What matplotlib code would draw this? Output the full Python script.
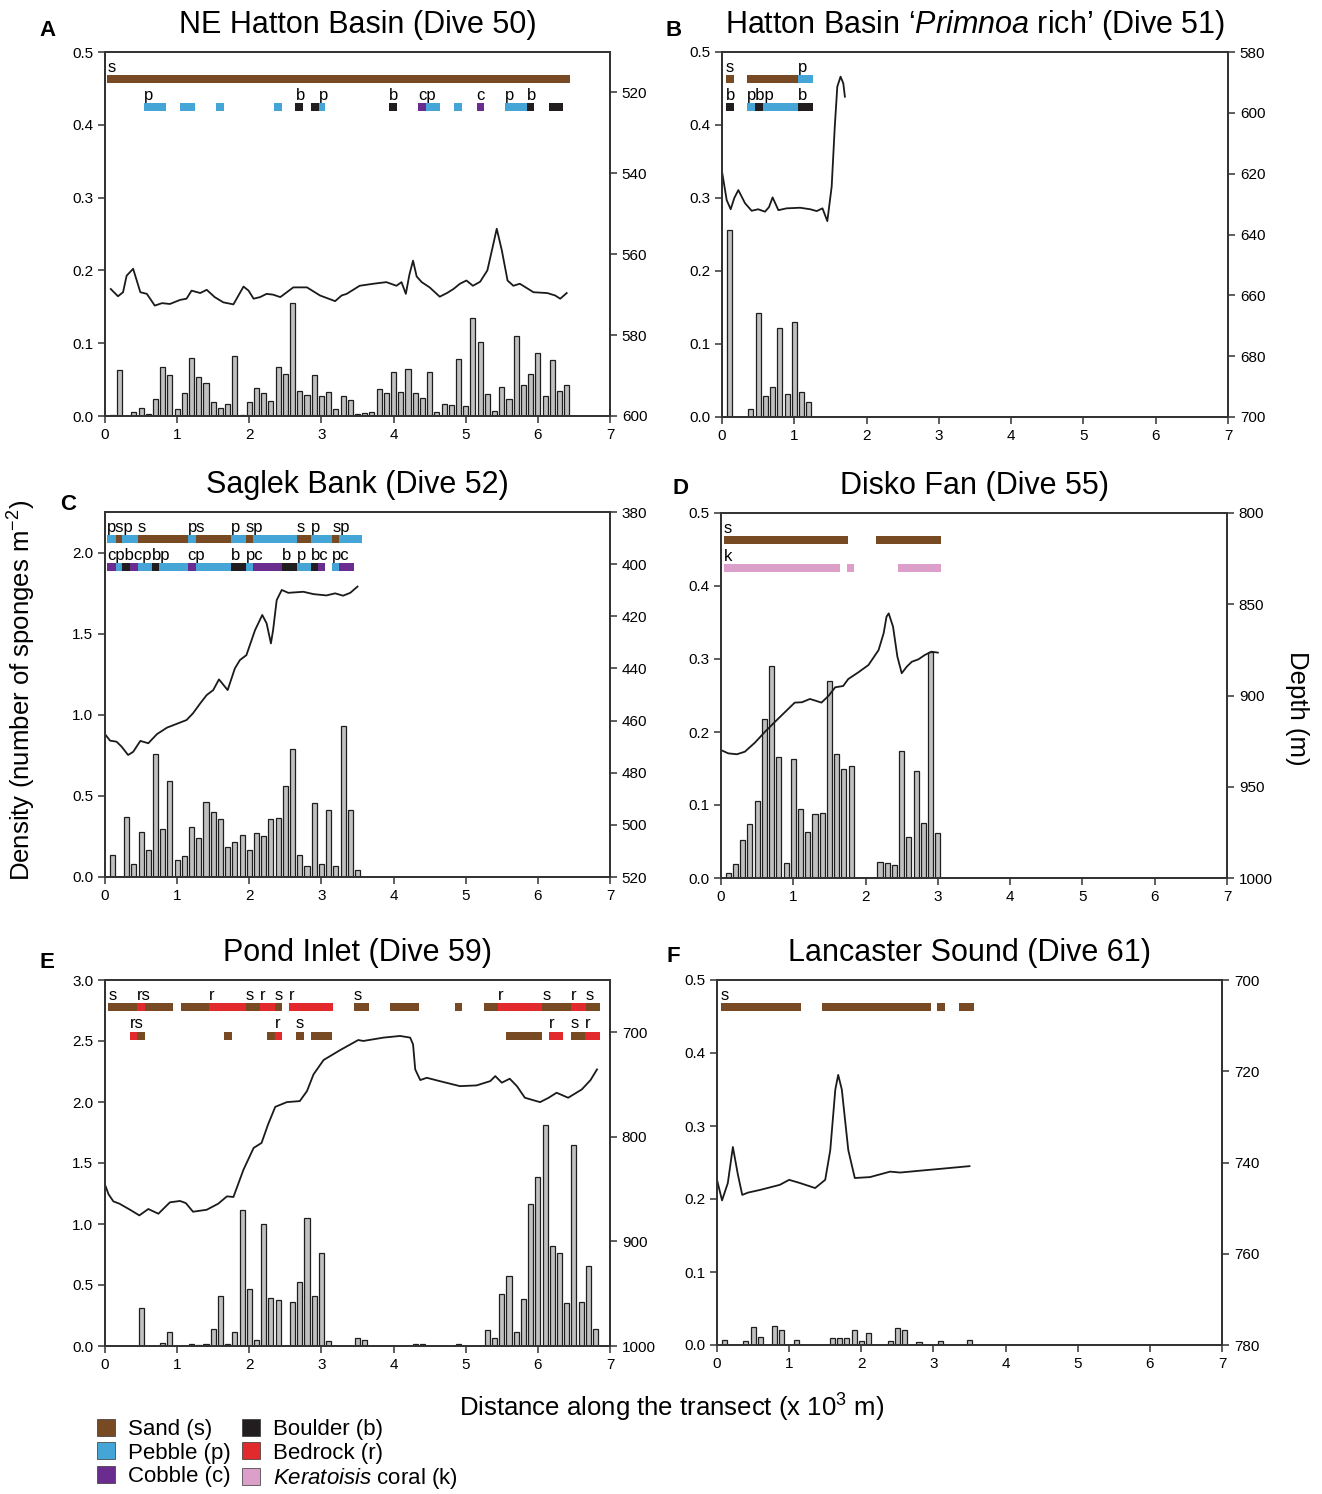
import numpy as np
import matplotlib
matplotlib.use("Agg")
import matplotlib.pyplot as plt
from matplotlib.patches import Rectangle, Patch

plt.rcParams['font.family'] = ['Liberation Sans', 'DejaVu Sans']
plt.rcParams['mathtext.fontset'] = 'custom'
plt.rcParams['mathtext.rm'] = 'Liberation Sans'
plt.rcParams['mathtext.it'] = 'Liberation Sans:italic'

W, H = 1322, 1494

substrate_colors = {'s': '#774a24', 'p': '#45a5d6', 'c': '#6b2c8f',
                    'b': '#221e1f', 'r': '#e22a2d', 'k': '#dc9fca'}
legend_names = [('s', 'Sand (s)'), ('p', 'Pebble (p)'), ('c', 'Cobble (c)'),
                ('b', 'Boulder (b)'), ('r', 'Bedrock (r)'),
                ('k', '$\\mathit{Keratoisis}$ coral (k)')]

# ---------------- Panel A : NE Hatton Basin (Dive 50)
a_dist = [0.1, 0.2, 0.4, 0.5, 0.6, 0.7, 0.8, 0.9, 1.0, 1.1, 1.2, 1.3, 1.4, 1.5, 1.6, 1.7,
          1.8, 1.9, 2.0, 2.1, 2.2, 2.3, 2.4, 2.5, 2.6, 2.7, 2.8, 2.9, 3.0, 3.1, 3.2, 3.3,
          3.4, 3.5, 3.6, 3.7, 3.8, 3.9, 4.0, 4.1, 4.2, 4.3, 4.4, 4.5, 4.6, 4.7, 4.8, 4.9,
          5.0, 5.1, 5.2, 5.3, 5.4, 5.5, 5.6, 5.7, 5.8, 5.9, 6.0, 6.1, 6.2, 6.3, 6.4]
a_dens = [0.002, 0.063, 0.005, 0.011, 0.003, 0.023, 0.067, 0.057, 0.010, 0.031, 0.080,
          0.054, 0.045, 0.019, 0.011, 0.017, 0.082, 0.002, 0.019, 0.039, 0.031, 0.021,
          0.067, 0.058, 0.155, 0.035, 0.029, 0.056, 0.028, 0.033, 0.009, 0.028, 0.022,
          0.003, 0.004, 0.006, 0.037, 0.031, 0.061, 0.033, 0.064, 0.031, 0.025, 0.060,
          0.005, 0.016, 0.015, 0.078, 0.014, 0.134, 0.101, 0.030, 0.007, 0.040, 0.024,
          0.110, 0.043, 0.058, 0.087, 0.028, 0.077, 0.035, 0.043]
a_line_x = [0.08, 0.18, 0.25, 0.30, 0.39, 0.44, 0.49, 0.58, 0.69, 0.79, 0.90, 1.04, 1.13,
            1.20, 1.32, 1.41, 1.52, 1.64, 1.78, 1.85, 1.92, 1.99, 2.06, 2.15, 2.24, 2.33,
            2.43, 2.52, 2.61, 2.80, 2.98, 3.19, 3.28, 3.35, 3.44, 3.53, 3.72, 3.90, 4.04,
            4.11, 4.17, 4.22, 4.27, 4.32, 4.39, 4.50, 4.64, 4.74, 4.83, 4.92, 5.01, 5.10,
            5.20, 5.30, 5.37, 5.43, 5.50, 5.58, 5.66, 5.75, 5.94, 6.13, 6.24, 6.31, 6.40]
a_line_d = [568.6, 570.4, 569.4, 565.3, 563.6, 566.5, 569.4, 569.8, 572.7, 572.1, 572.3,
            571.3, 571.0, 569.0, 569.6, 568.8, 570.6, 571.9, 572.4, 570.2, 568.0, 569.0,
            571.0, 570.6, 569.8, 570.0, 570.6, 569.4, 568.2, 568.2, 570.2, 571.6, 570.2,
            569.8, 568.8, 567.8, 567.3, 566.9, 567.8, 566.9, 569.8, 565.0, 561.6, 565.5,
            566.9, 568.2, 570.5, 569.6, 568.6, 567.3, 566.5, 567.8, 566.8, 564.0, 558.5,
            553.7, 559.0, 566.5, 567.8, 567.3, 569.4, 569.6, 570.2, 571.0, 569.6]
a_row1 = [(0.03, 6.45, 's')]
a_row2 = [(0.545, 0.846, 'p'), (1.04, 1.25, 'p'), (1.54, 1.65, 'p'), (2.34, 2.45, 'p'),
          (2.64, 2.75, 'b'), (2.85, 2.96, 'b'), (2.96, 3.05, 'p'), (3.94, 4.05, 'b'),
          (4.34, 4.45, 'c'), (4.45, 4.65, 'p'), (4.84, 4.95, 'p'), (5.15, 5.26, 'c'),
          (5.54, 5.85, 'p'), (5.85, 5.95, 'b'), (6.15, 6.35, 'b')]
a_lab1 = [(0.03, 's')]
a_lab2 = [(0.545, 'p'), (2.64, 'b'), (2.96, 'p'), (3.94, 'b'), (4.34, 'cp'),
          (5.15, 'c'), (5.54, 'p'), (5.85, 'b')]

# ---------------- Panel B : Hatton Basin 'Primnoa rich' (Dive 51)
b_dist = [0.1, 0.4, 0.5, 0.6, 0.7, 0.8, 0.9, 1.0, 1.1, 1.2]
b_dens = [0.256, 0.011, 0.143, 0.029, 0.041, 0.122, 0.031, 0.130, 0.034, 0.020]
b_line_x = [0.0, 0.065, 0.12, 0.17, 0.226, 0.318, 0.41, 0.5, 0.595, 0.65, 0.7, 0.78,
            0.894, 1.08, 1.22, 1.31, 1.39, 1.457, 1.517, 1.56, 1.595, 1.64, 1.678, 1.70]
b_line_d = [619.3, 628.7, 631.7, 628.0, 625.4, 629.7, 632.2, 631.7, 632.5, 631.0, 627.8,
            632.0, 631.4, 631.2, 631.7, 632.3, 631.4, 635.6, 624.3, 604.6, 591.4, 588.1,
            590.3, 594.7]
b_row1 = [(0.055, 0.166, 's'), (0.35, 1.055, 's'), (1.055, 1.26, 'p')]
b_row2 = [(0.055, 0.166, 'b'), (0.35, 0.456, 'p'), (0.456, 0.562, 'b'),
          (0.562, 1.055, 'p'), (1.055, 1.26, 'b')]
b_lab1 = [(0.055, 's'), (1.055, 'p')]
b_lab2 = [(0.055, 'b'), (0.35, 'pbp'), (1.055, 'b')]

# ---------------- Panel C : Saglek Bank (Dive 52)
c_dist = [0.1, 0.3, 0.4, 0.5, 0.6, 0.7, 0.8, 0.9, 1.0, 1.1, 1.2, 1.3, 1.4, 1.5, 1.6, 1.7,
          1.8, 1.9, 2.0, 2.1, 2.2, 2.3, 2.4, 2.5, 2.6, 2.7, 2.8, 2.9, 3.0, 3.1, 3.2, 3.3,
          3.4, 3.5]
c_dens = [0.136, 0.372, 0.082, 0.276, 0.167, 0.757, 0.294, 0.590, 0.105, 0.130, 0.307,
          0.243, 0.463, 0.403, 0.356, 0.183, 0.218, 0.261, 0.165, 0.270, 0.255, 0.360,
          0.362, 0.558, 0.790, 0.134, 0.070, 0.455, 0.078, 0.412, 0.068, 0.930, 0.416,
          0.045]
c_line_x = [0.0, 0.07, 0.16, 0.23, 0.32, 0.39, 0.49, 0.60, 0.72, 0.86, 0.99, 1.13, 1.22,
            1.32, 1.41, 1.50, 1.58, 1.70, 1.80, 1.87, 1.96, 2.08, 2.18, 2.24, 2.30, 2.33,
            2.38, 2.45, 2.54, 2.75, 2.89, 3.07, 3.19, 3.30, 3.40, 3.50]
c_line_d = [465.2, 467.7, 468.1, 470.0, 473.2, 472.0, 467.8, 468.7, 465.2, 462.7, 461.3,
            459.8, 457.2, 453.4, 450.2, 448.3, 444.2, 448.3, 440.0, 436.8, 434.9, 425.3,
            419.5, 422.7, 430.4, 425.3, 413.8, 409.9, 411.0, 410.6, 411.5, 412.0, 411.2,
            412.1, 411.0, 408.6]
c_row1 = [(0.032, 0.148, 'p'), (0.148, 0.24, 's'), (0.24, 0.453, 'p'), (0.453, 1.146, 's'),
          (1.146, 1.257, 'p'), (1.257, 1.747, 's'), (1.747, 1.955, 'p'), (1.955, 2.047, 's'),
          (2.047, 2.657, 'p'), (2.657, 2.851, 's'), (2.851, 3.151, 'p'), (3.151, 3.248, 's'),
          (3.248, 3.558, 'p')]
c_row2 = [(0.032, 0.148, 'c'), (0.148, 0.24, 'p'), (0.24, 0.347, 'b'), (0.347, 0.453, 'c'),
          (0.453, 0.647, 'p'), (0.647, 0.753, 'b'), (0.753, 1.146, 'p'), (1.146, 1.257, 'c'),
          (1.257, 1.747, 'p'), (1.747, 1.955, 'b'), (1.955, 2.047, 'p'), (2.047, 2.449, 'c'),
          (2.449, 2.657, 'b'), (2.657, 2.851, 'p'), (2.851, 2.957, 'b'), (2.957, 3.054, 'c'),
          (3.151, 3.248, 'p'), (3.248, 3.456, 'c')]
c_lab1 = [(0.032, 'psp'), (0.453, 's'), (1.146, 'ps'), (1.747, 'p'), (1.955, 'sp'),
          (2.657, 's'), (2.851, 'p'), (3.151, 'sp')]
c_lab2 = [(0.032, 'cpbcp'), (0.647, 'bp'), (1.146, 'cp'), (1.747, 'b'), (1.955, 'pc'),
          (2.449, 'b'), (2.657, 'p'), (2.851, 'bc'), (3.151, 'pc')]

# ---------------- Panel D : Disko Fan (Dive 55)
d_dist = [0.1, 0.2, 0.3, 0.4, 0.5, 0.6, 0.7, 0.8, 0.9, 1.0, 1.1, 1.2, 1.3, 1.4, 1.5, 1.6,
          1.7, 1.8, 2.2, 2.3, 2.4, 2.5, 2.6, 2.7, 2.8, 2.9, 3.0]
d_dens = [0.007, 0.019, 0.052, 0.074, 0.106, 0.218, 0.291, 0.166, 0.020, 0.163, 0.095,
          0.063, 0.088, 0.089, 0.270, 0.170, 0.149, 0.153, 0.022, 0.021, 0.018, 0.174,
          0.056, 0.146, 0.075, 0.309, 0.061]
d_line_x = [0.0, 0.10, 0.22, 0.33, 0.47, 0.61, 0.75, 0.89, 1.02, 1.12, 1.23, 1.32, 1.39,
            1.49, 1.58, 1.69, 1.76, 1.90, 2.04, 2.18, 2.25, 2.29, 2.32, 2.38, 2.44, 2.50,
            2.57, 2.64, 2.73, 2.82, 2.91, 3.00]
d_line_d = [929.9, 931.7, 932.2, 930.8, 925.8, 919.8, 914.3, 908.9, 903.9, 903.7, 901.9,
            903.0, 903.9, 900.1, 895.5, 894.8, 891.0, 887.3, 883.3, 875.1, 865.9, 856.8,
            855.0, 862.3, 878.7, 887.8, 884.2, 881.5, 880.2, 877.8, 876.0, 876.5]
d_row1 = [(0.041, 1.761, 's'), (2.14, 3.05, 's')]
d_row2 = [(0.041, 1.646, 'k'), (1.747, 1.844, 'k'), (2.444, 3.05, 'k')]
d_lab1 = [(0.041, 's')]
d_lab2 = [(0.041, 'k')]

# ---------------- Panel E : Pond Inlet (Dive 59)
e_dist = [0.5, 0.8, 0.9, 1.2, 1.3, 1.4, 1.5, 1.6, 1.7, 1.8, 1.9, 2.0, 2.1, 2.2, 2.3, 2.4,
          2.6, 2.7, 2.8, 2.9, 3.0, 3.1, 3.5, 3.6, 4.3, 4.4, 4.9, 5.3, 5.4, 5.5, 5.6, 5.7,
          5.8, 5.9, 6.0, 6.1, 6.2, 6.3, 6.4, 6.5, 6.6, 6.7, 6.8]
e_dens = [0.314, 0.022, 0.117, 0.014, 0.011, 0.016, 0.139, 0.413, 0.016, 0.115, 1.117,
          0.464, 0.049, 1.000, 0.396, 0.374, 0.358, 0.525, 1.052, 0.413, 0.765, 0.041,
          0.068, 0.046, 0.014, 0.014, 0.019, 0.131, 0.066, 0.429, 0.574, 0.115, 0.385,
          1.161, 1.383, 1.814, 0.820, 0.765, 0.352, 1.645, 0.361, 0.658, 0.139]
e_line_x = [0.0, 0.05, 0.116, 0.20, 0.347, 0.476, 0.60, 0.74, 0.90, 1.04, 1.12, 1.22,
            1.41, 1.57, 1.69, 1.78, 1.92, 2.06, 2.17, 2.26, 2.36, 2.52, 2.70, 2.80, 2.89,
            3.03, 3.26, 3.51, 3.58, 3.86, 4.09, 4.23, 4.27, 4.30, 4.37, 4.46, 4.64, 4.92,
            5.15, 5.34, 5.41, 5.50, 5.61, 5.71, 5.82, 6.03, 6.15, 6.26, 6.42, 6.61, 6.73,
            6.82]
e_line_d = [845.7, 855.0, 861.7, 863.9, 869.7, 875.1, 869.0, 873.5, 862.6, 861.3, 863.3,
            871.6, 869.7, 863.9, 856.9, 857.5, 831.3, 810.6, 805.8, 788.2, 771.3, 766.8,
            765.8, 756.2, 740.3, 726.5, 717.0, 707.4, 708.3, 705.1, 703.5, 705.1, 711.5,
            735.5, 745.7, 743.5, 746.7, 751.5, 750.8, 746.7, 741.9, 748.2, 744.4, 751.5,
            762.6, 766.8, 762.6, 757.8, 762.6, 754.6, 745.7, 735.5]
e_row1 = [(0.046, 0.439, 's'), (0.439, 0.555, 'r'), (0.555, 0.947, 's'),
          (1.049, 1.446, 's'), (1.446, 1.955, 'r'), (1.955, 2.149, 's'), (2.149, 2.357, 'r'),
          (2.357, 2.458, 's'), (2.55, 3.156, 'r'), (3.452, 3.655, 's'), (3.95, 4.35, 's'),
          (4.852, 4.954, 's'), (5.253, 5.452, 's'), (5.452, 6.062, 'r'), (6.062, 6.455, 's'),
          (6.455, 6.663, 'r'), (6.663, 6.862, 's')]
e_row2 = [(0.346, 0.448, 'r'), (0.448, 0.555, 's'), (1.65, 1.756, 's'), (2.25, 2.352, 's'),
          (2.352, 2.458, 'r'), (2.647, 2.753, 's'), (2.85, 3.15, 's'), (5.554, 6.062, 's'),
          (6.155, 6.354, 'r'), (6.455, 6.654, 's'), (6.654, 6.862, 'r')]
e_lab1 = [(0.046, 's'), (0.439, 'rs'), (1.446, 'r'), (1.955, 's'), (2.149, 'r'),
          (2.357, 's'), (2.55, 'r'), (3.452, 's'), (5.452, 'r'), (6.062, 's'),
          (6.455, 'r'), (6.663, 's')]
e_lab2 = [(0.346, 'rs'), (2.352, 'r'), (2.647, 's'), (6.155, 'r'), (6.455, 's'),
          (6.654, 'r')]

# ---------------- Panel F : Lancaster Sound (Dive 61)
f_dist = [0.1, 0.4, 0.5, 0.6, 0.8, 0.9, 1.1, 1.6, 1.7, 1.8, 1.9, 2.0, 2.1, 2.4, 2.5, 2.6,
          2.8, 3.1, 3.5]
f_dens = [0.007, 0.006, 0.025, 0.011, 0.026, 0.020, 0.007, 0.010, 0.010, 0.010, 0.020,
          0.006, 0.017, 0.005, 0.023, 0.020, 0.004, 0.005, 0.007]
f_line_x = [0.0, 0.07, 0.15, 0.22, 0.29, 0.35, 0.43, 0.60, 0.87, 1.00, 1.15, 1.36, 1.50,
            1.57, 1.64, 1.68, 1.73, 1.82, 1.91, 2.12, 2.40, 2.54, 2.81, 3.09, 3.50]
f_line_d = [743.8, 748.3, 744.5, 736.6, 742.7, 747.1, 746.6, 746.0, 744.9, 743.8, 744.5,
            745.6, 743.8, 737.3, 724.0, 720.8, 724.0, 737.3, 743.4, 743.2, 742.0, 742.2,
            741.8, 741.4, 740.8]
f_row1 = [(0.051, 1.16, 's'), (1.45, 2.96, 's'), (3.05, 3.16, 's'), (3.35, 3.56, 's')]
f_lab1 = [(0.051, 's')]

fig = plt.figure(figsize=(W / 100, H / 100), dpi=100)

row_y = [0.925, 0.848]
lab_y = [0.946, 0.869]
bar_h = 0.022


def panel(box, dist, dens, lx, ld, ylim, yticks, dlim, dticks, rows, labs, title, letter, letter_px):
    l, t, r, b = box
    ax = fig.add_axes([l / W, 1 - b / H, (r - l) / W, (b - t) / H])
    ax.bar(dist, dens, width=0.07, color='#c0c0c0', edgecolor='#1e1e1e', linewidth=0.9, zorder=2)
    ax.set_xlim(0, 7)
    ax.set_xticks(range(8))
    ax.set_ylim(*ylim)
    ax.set_yticks(yticks)
    ax.yaxis.set_major_formatter('{x:.1f}')
    xt = ax.get_xaxis_transform()
    for i, row in enumerate(rows):
        for s, e, c in row:
            ax.add_patch(Rectangle((s, row_y[i] - bar_h / 2), e - s, bar_h, transform=xt,
                                   facecolor=substrate_colors[c], edgecolor='none', zorder=3))
    for i, lab in enumerate(labs):
        for x0, txt in lab:
            ax.text(x0, lab_y[i], txt, transform=xt, fontsize=12, ha='left', va='baseline')
    ax2 = ax.twinx()
    ax2.plot(lx, ld, color='#1a1a1a', lw=1.3)
    ax2.set_ylim(dlim[1], dlim[0])
    ax2.set_yticks(dticks)
    for a in (ax, ax2):
        a.tick_params(direction='out', length=5, width=1.1, labelsize=11, color='#333333')
        for sp in a.spines.values():
            sp.set_linewidth(1.3)
            sp.set_color('#333333')
    ax.text(0.5, 1.075, title, transform=ax.transAxes, ha='center', va='center', fontsize=22)
    fig.text(letter_px[0] / W, 1 - letter_px[1] / H, letter, ha='center', va='center',
             fontsize=16, fontweight='bold')
    return ax


panel((105, 52, 610, 416), a_dist, a_dens, a_line_x, a_line_d, (0, 0.5),
      [0, 0.1, 0.2, 0.3, 0.4, 0.5], (510, 600), [520, 540, 560, 580, 600],
      [a_row1, a_row2], [a_lab1, a_lab2], 'NE Hatton Basin (Dive 50)', 'A', (48, 30))
panel((722, 52, 1228, 417), b_dist, b_dens, b_line_x, b_line_d, (0, 0.5),
      [0, 0.1, 0.2, 0.3, 0.4, 0.5], (580, 700), [580, 600, 620, 640, 660, 680, 700],
      [b_row1, b_row2], [b_lab1, b_lab2],
      'Hatton Basin \u2018$\\mathit{Primnoa}$ rich\u2019 (Dive 51)', 'B', (674, 30))
panel((105, 512, 610, 877), c_dist, c_dens, c_line_x, c_line_d, (0, 2.25),
      [0, 0.5, 1.0, 1.5, 2.0], (380, 520), [380, 400, 420, 440, 460, 480, 500, 520],
      [c_row1, c_row2], [c_lab1, c_lab2], 'Saglek Bank (Dive 52)', 'C', (68, 505))
panel((721, 513, 1227, 878), d_dist, d_dens, d_line_x, d_line_d, (0, 0.5),
      [0, 0.1, 0.2, 0.3, 0.4, 0.5], (800, 1000), [800, 850, 900, 950, 1000],
      [d_row1, d_row2], [d_lab1, d_lab2], 'Disko Fan (Dive 55)', 'D', (681, 488))
panel((105, 980, 610, 1346), e_dist, e_dens, e_line_x, e_line_d, (0, 3.0),
      [0, 0.5, 1.0, 1.5, 2.0, 2.5, 3.0], (650, 1000), [700, 800, 900, 1000],
      [e_row1, e_row2], [e_lab1, e_lab2], 'Pond Inlet (Dive 59)', 'E', (47, 963))
panel((717, 980, 1222, 1345), f_dist, f_dens, f_line_x, f_line_d, (0, 0.5),
      [0, 0.1, 0.2, 0.3, 0.4, 0.5], (700, 780), [700, 720, 740, 760, 780],
      [f_row1], [f_lab1], 'Lancaster Sound (Dive 61)', 'F', (673, 957))

fig.text(22 / W, 1 - 690 / H, 'Density (number of sponges m$^{-2}$)', rotation=90,
         ha='center', va='center', fontsize=18.5)
fig.text(1297 / W, 1 - 708 / H, 'Depth (m)', rotation=270, ha='center', va='center', fontsize=18.5)
fig.text(672 / W, 1 - 1408 / H, 'Distance along the transect (x 10$^3$ m)',
         ha='center', va='center', fontsize=18.5)

handles = [Patch(facecolor=substrate_colors[k], edgecolor='#333333', linewidth=0.5)
           for k, _ in legend_names]
fig.legend(handles, [n for _, n in legend_names], ncol=2, loc='upper left',
           bbox_to_anchor=(97 / W, 1 - 1419 / H), frameon=False, fontsize=16,
           handlelength=0.8, handleheight=0.8, handletextpad=0.6, columnspacing=0.5,
           labelspacing=0.1, borderaxespad=0, borderpad=0)

fig.savefig('out.png', dpi=100)
